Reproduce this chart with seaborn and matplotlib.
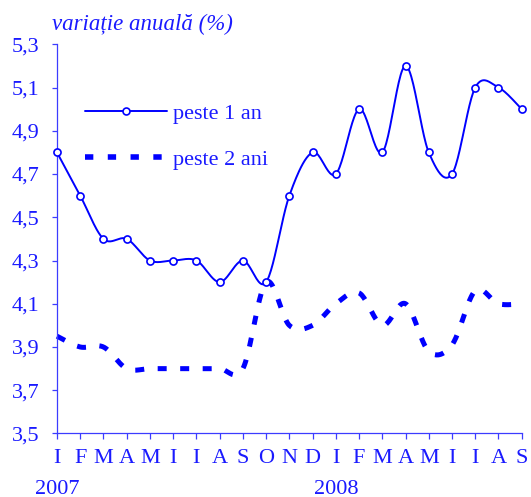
import numpy as np
import pandas as pd
import matplotlib
matplotlib.use("Agg")
import matplotlib.pyplot as plt
import seaborn as sns
from matplotlib.lines import Line2D
from matplotlib.ticker import FixedLocator, FuncFormatter

# ---------------- data ----------------
months = ['I', 'F', 'M', 'A', 'M', 'I', 'I', 'A', 'S', 'O', 'N', 'D',
          'I', 'F', 'M', 'A', 'M', 'I', 'I', 'A', 'S']
years = ['2007', '2008']
year_start_idx = [0, 12]
peste_1_an = [4.8, 4.6, 4.4, 4.4, 4.3, 4.3, 4.3, 4.2, 4.3, 4.2, 4.6, 4.8,
              4.7, 5.0, 4.8, 5.2, 4.8, 4.7, 5.1, 5.1, 5.0]
peste_2_ani = [3.95, 3.9, 3.9, 3.8, 3.8, 3.8, 3.8, 3.8, 3.8, 4.2, 4.0, 4.0,
               4.1, 4.15, 4.0, 4.1, 3.88, 3.91, 4.16, 4.1, 4.1]
y_ticks = [3.5, 3.7, 3.9, 4.1, 4.3, 4.5, 4.7, 4.9, 5.1, 5.3]
series_labels = ['peste 1 an', 'peste 2 ani']
title = 'variație anuală (%)'

BLUE = '#0000FF'
TXT = '#1a1aff'
AX = '#3c3cff'
SERIF = 'Liberation Serif'
FS = 16


def smooth(xs, ys, n=24):
    """Excel-like smoothed line (cubic Bezier through points, Catmull-Rom tangents)."""
    x = np.asarray(xs, float)
    y = np.asarray(ys, float)
    px = np.concatenate([[x[0]], x, [x[-1]]])
    py = np.concatenate([[y[0]], y, [y[-1]]])
    t = np.linspace(0, 1, n, endpoint=False)
    ox, oy = [], []
    for i in range(len(x) - 1):
        p0x, p1x, p2x, p3x = px[i:i + 4]
        p0y, p1y, p2y, p3y = py[i:i + 4]
        c1x, c1y = p1x + (p2x - p0x) / 6, p1y + (p2y - p0y) / 6
        c2x, c2y = p2x - (p3x - p1x) / 6, p2y - (p3y - p1y) / 6
        b0 = (1 - t) ** 3
        b1 = 3 * (1 - t) ** 2 * t
        b2 = 3 * (1 - t) * t ** 2
        b3 = t ** 3
        ox.append(b0 * p1x + b1 * c1x + b2 * c2x + b3 * p2x)
        oy.append(b0 * p1y + b1 * c1y + b2 * c2y + b3 * p2y)
    ox.append([x[-1]])
    oy.append([y[-1]])
    return np.concatenate(ox), np.concatenate(oy)


sns.set_theme(style='white')
plt.rcParams['font.family'] = [SERIF, 'DejaVu Serif']

fig = plt.figure(figsize=(5.31, 4.97), dpi=100)
ax = fig.add_axes([0.1073, 0.1278, 0.8752, 0.7831])

xpos = np.arange(len(months))
df = pd.DataFrame({'x': xpos, 'p1': peste_1_an, 'p2': peste_2_ani})

sx1, sy1 = smooth(df['x'], df['p1'])
sx2, sy2 = smooth(df['x'], df['p2'])
s1 = pd.DataFrame({'x': sx1, 'y': sy1})
s2 = pd.DataFrame({'x': sx2, 'y': sy2})

sns.lineplot(data=s1, x='x', y='y', sort=False, estimator=None, ax=ax,
             color=BLUE, linewidth=1.4, clip_on=False)
sns.lineplot(data=s2, x='x', y='y', sort=False, estimator=None, ax=ax,
             color=BLUE, linewidth=3.6, dashes=False, clip_on=False)
ax.lines[-1].set_dashes((1.8, 2.7))
ax.lines[-1].set_dash_capstyle('butt')
sns.scatterplot(data=df, x='x', y='p1', ax=ax, marker='o', s=26,
                facecolor='white', edgecolor=BLUE, linewidth=1.2,
                zorder=5, clip_on=False)

ax.set_xlim(0, len(months) - 1)
ax.set_ylim(y_ticks[0], y_ticks[-1])
ax.xaxis.set_major_locator(FixedLocator(xpos))
ax.set_xticklabels(months)
ax.yaxis.set_major_locator(FixedLocator(y_ticks))
ax.yaxis.set_major_formatter(FuncFormatter(lambda v, p: f'{v:.1f}'.replace('.', ',')))
ax.set_xlabel('')
ax.set_ylabel('')

for side in ['top', 'right']:
    ax.spines[side].set_visible(False)
for side in ['left', 'bottom']:
    ax.spines[side].set_color(AX)
    ax.spines[side].set_linewidth(0.9)

ax.tick_params(axis='y', direction='out', length=3.6, width=0.9, color=AX,
               labelsize=FS, labelcolor=TXT, pad=9, left=True)
ax.tick_params(axis='x', direction='out', length=4.5, width=0.9, color=AX,
               labelsize=FS, labelcolor=TXT, pad=6.5, bottom=True)

for yr, idx in zip(years, year_start_idx):
    ax.annotate(yr, xy=(idx, 0), xycoords=ax.get_xaxis_transform(),
                xytext=(0, -40), textcoords='offset points',
                ha='center', va='center', fontsize=FS, color=TXT)

fig.text(52 / 531, 1 - 24 / 497, title, ha='left', va='center',
         fontsize=16.5, style='italic', color=TXT)

handles = [
    Line2D([], [], color=BLUE, linewidth=1.4, marker='o', markersize=5,
           markerfacecolor='white', markeredgecolor=BLUE, markeredgewidth=1.2),
    Line2D([], [], color=BLUE, linewidth=4.0, dashes=(1.5, 2.6),
           dash_capstyle='butt'),
]
ax.legend(handles, series_labels, loc='upper left', bbox_to_anchor=(0.06, 0.848),
          frameon=False, handlelength=3.7, handletextpad=0.27, labelspacing=1.15,
          borderpad=0, borderaxespad=0, numpoints=1,
          prop={'family': SERIF, 'size': FS}, labelcolor=TXT)

fig.savefig('out.png', dpi=100)
